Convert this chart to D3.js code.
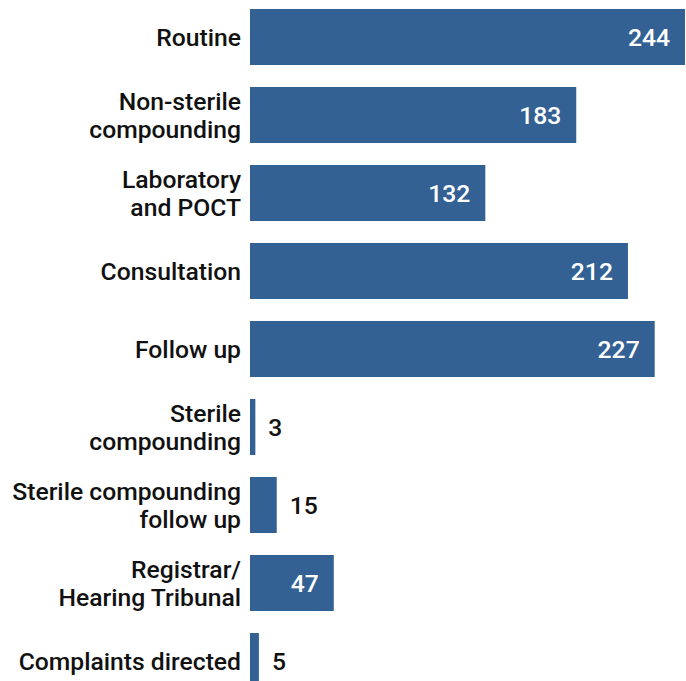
<!DOCTYPE html>
<html>
<head>
<meta charset="utf-8">
<script src="https://cdn.jsdelivr.net/npm/d3@7"></script>
<style>
  html, body { margin: 0; padding: 0; background: #fff; }
  svg { display: block; }
  text { font-family: Roboto, "Noto Sans", sans-serif; }
</style>
</head>
<body>
<div id="chart"></div>
<script>
// Inspection counts by type
const categories = [
  ["Routine"],
  ["Non-sterile", "compounding"],
  ["Laboratory", "and POCT"],
  ["Consultation"],
  ["Follow up"],
  ["Sterile", "compounding"],
  ["Sterile compounding", "follow up"],
  ["Registrar/", "Hearing Tribunal"],
  ["Complaints directed"]
];
const values = [244, 183, 132, 212, 227, 3, 15, 47, 5];

const width = 686, height = 681;
const barLeft = 250, barRight = 685;
const barColor = "#336194";

const svg = d3.select("#chart").append("svg")
  .attr("width", width)
  .attr("height", height);

const x = d3.scaleLinear()
  .domain([0, d3.max(values)])
  .range([barLeft, barRight]);

const y = d3.scaleBand()
  .domain(d3.range(values.length))
  .range([-2, 700])
  .paddingInner(0.282)
  .paddingOuter(0.141);

const rows = svg.selectAll("g.row")
  .data(values.map((v, i) => ({ v, i, label: categories[i] })))
  .join("g")
  .attr("class", "row");

rows.append("rect")
  .attr("x", x(0))
  .attr("y", d => y(d.i))
  .attr("width", d => x(d.v) - x(0))
  .attr("height", y.bandwidth())
  .attr("fill", barColor);

// Category labels, right-aligned against the bars
const fontSize = 24.7, lineH = 28;
rows.append("text")
  .attr("text-anchor", "end")
  .attr("font-size", fontSize)
  .attr("font-weight", 500)
  .attr("fill", "#111")
  .each(function (d) {
    const cy = y(d.i) + y.bandwidth() / 2;
    const n = d.label.length;
    d3.select(this).selectAll("tspan")
      .data(d.label)
      .join("tspan")
      .attr("x", barLeft - 9)
      .attr("y", (t, k) => cy + (k - (n - 1) / 2) * lineH)
      .attr("dy", "0.36em")
      .text(t => t);
  });

// Value labels: inside the bar when it fits, otherwise just past its end
rows.append("text")
  .attr("font-size", fontSize)
  .attr("font-weight", 500)
  .attr("dy", "0.36em")
  .attr("y", d => y(d.i) + y.bandwidth() / 2)
  .text(d => d.v)
  .each(function (d) {
    const w = this.getComputedTextLength();
    const barW = x(d.v) - x(0);
    const sel = d3.select(this);
    if (barW > w + 24) {
      sel.attr("x", x(d.v) - 15).attr("text-anchor", "end").attr("fill", "#fff");
    } else {
      sel.attr("x", x(d.v) + 13).attr("text-anchor", "start").attr("fill", "#111");
    }
  });
</script>
</body>
</html>
